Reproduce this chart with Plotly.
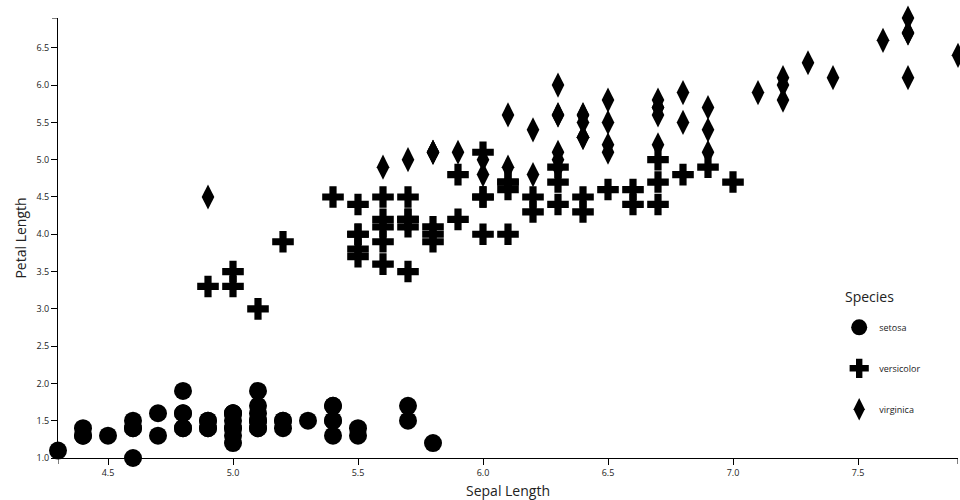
import plotly.graph_objects as go

species = ["setosa", "versicolor", "virginica"]
symbols = ["circle", "cross", "diamond-tall"]

setosa_sepal = [5.1,4.9,4.7,4.6,5.0,5.4,4.6,5.0,4.4,4.9,5.4,4.8,4.8,4.3,5.8,5.7,5.4,5.1,5.7,5.1,5.4,5.1,4.6,5.1,4.8,5.0,5.0,5.2,5.2,4.7,4.8,5.4,5.2,5.5,4.9,5.0,5.5,4.9,4.4,5.1,5.0,4.5,4.4,5.0,5.1,4.8,5.1,4.6,5.3,5.0]
setosa_petal = [1.4,1.4,1.3,1.5,1.4,1.7,1.4,1.5,1.4,1.5,1.5,1.6,1.4,1.1,1.2,1.5,1.3,1.4,1.7,1.5,1.7,1.5,1.0,1.7,1.9,1.6,1.6,1.5,1.4,1.6,1.6,1.5,1.5,1.4,1.5,1.2,1.3,1.4,1.3,1.5,1.3,1.3,1.3,1.6,1.9,1.4,1.6,1.4,1.5,1.4]

versicolor_sepal = [7.0,6.4,6.9,5.5,6.5,5.7,6.3,4.9,6.6,5.2,5.0,5.9,6.0,6.1,5.6,6.7,5.6,5.8,6.2,5.6,5.9,6.1,6.3,6.1,6.4,6.6,6.8,6.7,6.0,5.7,5.5,5.5,5.8,6.0,5.4,6.0,6.7,6.3,5.6,5.5,5.5,6.1,5.8,5.0,5.6,5.7,5.7,6.2,5.1,5.7]
versicolor_petal = [4.7,4.5,4.9,4.0,4.6,4.5,4.7,3.3,4.6,3.9,3.5,4.2,4.0,4.7,3.6,4.4,4.5,4.1,4.5,3.9,4.8,4.0,4.9,4.7,4.3,4.4,4.8,5.0,4.5,3.5,3.8,3.7,3.9,5.1,4.5,4.5,4.7,4.4,4.1,4.0,4.4,4.6,4.0,3.3,4.2,4.2,4.2,4.3,3.0,4.1]

virginica_sepal = [6.3,5.8,7.1,6.3,6.5,7.6,4.9,7.3,6.7,7.2,6.5,6.4,6.8,5.7,5.8,6.4,6.5,7.7,7.7,6.0,6.9,5.6,7.7,6.3,6.7,7.2,6.2,6.1,6.4,7.2,7.4,7.9,6.4,6.3,6.1,7.7,6.3,6.4,6.0,6.9,6.7,6.9,5.8,6.8,6.7,6.7,6.3,6.5,6.2,5.9]
virginica_petal = [6.0,5.1,5.9,5.6,5.8,6.6,4.5,6.3,5.8,6.1,5.1,5.3,5.5,5.0,5.1,5.3,5.5,6.7,6.9,5.0,5.7,4.9,6.7,4.9,5.7,6.0,4.8,4.9,5.6,5.8,6.1,6.4,5.6,5.1,5.6,6.1,5.6,5.5,4.8,5.4,5.6,5.1,5.1,5.9,5.7,5.2,5.0,5.2,5.4,5.1]

x_ticks = [4.5, 5.0, 5.5, 6.0, 6.5, 7.0, 7.5]
y_ticks = [1.0, 1.5, 2.0, 2.5, 3.0, 3.5, 4.0, 4.5, 5.0, 5.5, 6.0, 6.5]
x_range = [4.3, 7.9]
y_range = [1.0, 6.9]

xs = [setosa_sepal, versicolor_sepal, virginica_sepal]
ys = [setosa_petal, versicolor_petal, virginica_petal]

fig = go.Figure()
for name, sym, x, y in zip(species, symbols, xs, ys):
    fig.add_trace(go.Scatter(
        x=x, y=y, mode="markers", name=name, legendgroup=name,
        marker=dict(symbol=sym, size=18, color="black", line=dict(width=0)),
        cliponaxis=False,
    ))

axis_common = dict(
    showgrid=False, zeroline=False, showline=True, linecolor="black", linewidth=1,
    ticks="outside", ticklen=6, tickcolor="black", tickwidth=1,
    tickfont=dict(size=9, color="#222"), tickformat=".1f", automargin=False,
)
fig.update_xaxes(range=x_range, tickvals=x_ticks, title=dict(text="Sepal Length", font=dict(size=14, color="#222"), standoff=10), **axis_common)
fig.update_yaxes(range=y_range, tickvals=y_ticks, title=dict(text="Petal Length", font=dict(size=14, color="#222"), standoff=6), **axis_common)

# outer ticks at domain ends
fig.add_shape(type="line", xref="x", yref="paper", x0=x_range[0], x1=x_range[0], ysizemode="pixel", yanchor=0, y0=0, y1=-6, line=dict(color="black", width=1))
fig.add_shape(type="line", xref="x", yref="paper", x0=x_range[1], x1=x_range[1], ysizemode="pixel", yanchor=0, y0=0, y1=-6, line=dict(color="black", width=1))
fig.add_shape(type="line", xref="paper", yref="y", y0=y_range[1], y1=y_range[1], xsizemode="pixel", xanchor=0, x0=-6, x1=0, line=dict(color="black", width=1))

fig.add_annotation(text="Species", xref="paper", yref="paper", x=0.872, y=0.366,
                   xanchor="left", yanchor="middle", showarrow=False,
                   font=dict(size=14, color="#222"))

fig.update_layout(
    width=960, height=500,
    margin=dict(l=58, r=2, t=18, b=42),
    paper_bgcolor="white", plot_bgcolor="white",
    font=dict(family="Open Sans", color="#222"),
    legend=dict(
        x=0.868, y=0.33, xanchor="left", yanchor="top",
        font=dict(size=9), tracegroupgap=22, bgcolor="rgba(0,0,0,0)",
    ),
)

fig.write_html("out.html", config={"displayModeBar": False},
               post_script="document.body.style.margin='0';document.body.style.overflow='hidden';")
